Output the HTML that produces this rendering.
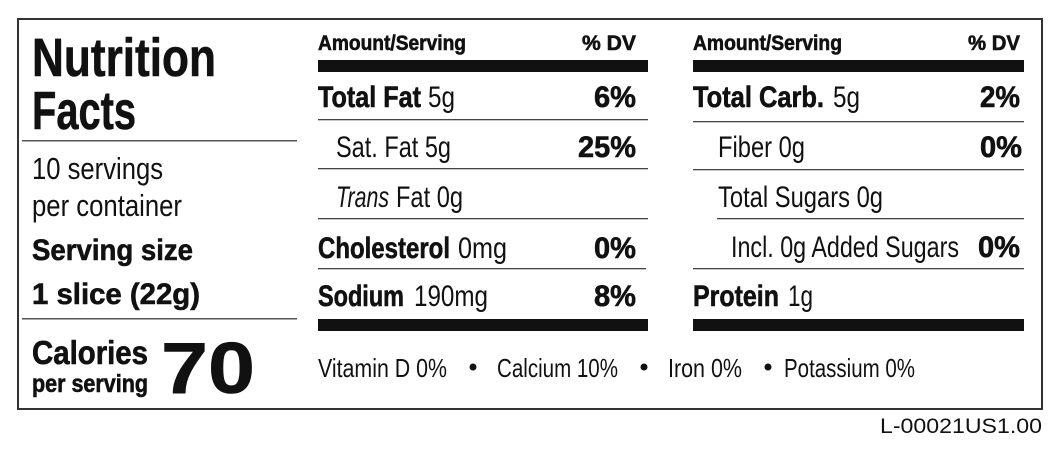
<!DOCTYPE html>
<html><head><meta charset="utf-8"><style>
html,body{margin:0;padding:0;background:#fff;}
svg{display:block;}
text{font-family:"Liberation Sans",sans-serif;fill:#111;}
.b{font-weight:bold;stroke:#111;stroke-width:0.6;}
</style></head><body>
<svg width="1060" height="449" viewBox="0 0 1060 449" xmlns="http://www.w3.org/2000/svg">
<rect x="18" y="19" width="1024" height="390" fill="none" stroke="#333" stroke-width="2"/>
<!-- left column -->
<text class="b" x="32" y="76" font-size="54" textLength="184" lengthAdjust="spacingAndGlyphs">Nutrition</text>
<text class="b" x="32" y="129" font-size="54" textLength="104" lengthAdjust="spacingAndGlyphs">Facts</text>
<rect x="22" y="140" width="275" height="1.5" fill="#555"/>
<text x="32" y="179" font-size="31" textLength="131" lengthAdjust="spacingAndGlyphs">10 servings</text>
<text x="32" y="216" font-size="31" textLength="150" lengthAdjust="spacingAndGlyphs">per container</text>
<text class="b" x="32" y="260" font-size="30" textLength="161" lengthAdjust="spacingAndGlyphs">Serving size</text>
<text class="b" x="32" y="304" font-size="30" textLength="168" lengthAdjust="spacingAndGlyphs">1 slice (22g)</text>
<rect x="22" y="318" width="275" height="1.5" fill="#555"/>
<text class="b" x="32" y="364" font-size="33" textLength="116" lengthAdjust="spacingAndGlyphs">Calories</text>
<text class="b" x="32" y="392" font-size="25" textLength="116" lengthAdjust="spacingAndGlyphs">per serving</text>
<text class="b" x="161" y="393" font-size="72" stroke-width="2" textLength="94" lengthAdjust="spacingAndGlyphs">70</text>
<!-- middle column -->
<text class="b" x="318" y="50" font-size="21" textLength="148" lengthAdjust="spacingAndGlyphs">Amount/Serving</text>
<text class="b" x="582" y="50" font-size="21" textLength="54" lengthAdjust="spacingAndGlyphs">% DV</text>
<rect x="318" y="60" width="330" height="12" fill="#111"/>
<text class="b" x="318" y="107" font-size="30" textLength="103" lengthAdjust="spacingAndGlyphs">Total Fat</text>
<text x="428" y="107" font-size="30" textLength="27" lengthAdjust="spacingAndGlyphs">5g</text>
<text class="b" x="594" y="107" font-size="30" textLength="42" lengthAdjust="spacingAndGlyphs">6%</text>
<rect x="318" y="119" width="330" height="1.3" fill="#444"/>
<text x="336" y="157" font-size="30" textLength="115" lengthAdjust="spacingAndGlyphs">Sat. Fat 5g</text>
<text class="b" x="578" y="157" font-size="30" textLength="58" lengthAdjust="spacingAndGlyphs">25%</text>
<rect x="318" y="168" width="330" height="1.3" fill="#444"/>
<text x="336" y="207" font-size="30" font-style="italic" textLength="53" lengthAdjust="spacingAndGlyphs">Trans</text>
<text x="396" y="207" font-size="30" textLength="67" lengthAdjust="spacingAndGlyphs">Fat 0g</text>
<rect x="318" y="218" width="330" height="1.3" fill="#444"/>
<text class="b" x="318" y="258" font-size="30" textLength="132" lengthAdjust="spacingAndGlyphs">Cholesterol</text>
<text x="458" y="258" font-size="30" textLength="49" lengthAdjust="spacingAndGlyphs">0mg</text>
<text class="b" x="594" y="258" font-size="30" textLength="42" lengthAdjust="spacingAndGlyphs">0%</text>
<rect x="318" y="268" width="328" height="1.3" fill="#444"/>
<text class="b" x="318" y="306" font-size="30" textLength="86" lengthAdjust="spacingAndGlyphs">Sodium</text>
<text x="414" y="306" font-size="30" textLength="74" lengthAdjust="spacingAndGlyphs">190mg</text>
<text class="b" x="594" y="306" font-size="30" textLength="42" lengthAdjust="spacingAndGlyphs">8%</text>
<rect x="318" y="319" width="330" height="12" fill="#111"/>
<!-- right column -->
<text class="b" x="693" y="50" font-size="21" textLength="149" lengthAdjust="spacingAndGlyphs">Amount/Serving</text>
<text class="b" x="968" y="50" font-size="21" textLength="52" lengthAdjust="spacingAndGlyphs">% DV</text>
<rect x="693" y="60" width="331" height="12" fill="#111"/>
<text class="b" x="693" y="107" font-size="30" textLength="131" lengthAdjust="spacingAndGlyphs">Total Carb.</text>
<text x="833" y="107" font-size="30" textLength="27" lengthAdjust="spacingAndGlyphs">5g</text>
<text class="b" x="980" y="107" font-size="30" textLength="40" lengthAdjust="spacingAndGlyphs">2%</text>
<rect x="693" y="121" width="331" height="1.3" fill="#444"/>
<text x="718" y="157" font-size="30" textLength="87" lengthAdjust="spacingAndGlyphs">Fiber 0g</text>
<text class="b" x="980" y="157" font-size="30" textLength="42" lengthAdjust="spacingAndGlyphs">0%</text>
<rect x="693" y="169" width="331" height="1.3" fill="#444"/>
<text x="718" y="207" font-size="30" textLength="165" lengthAdjust="spacingAndGlyphs">Total Sugars 0g</text>
<rect x="717" y="218" width="307" height="1.3" fill="#444"/>
<text x="731" y="257" font-size="30" textLength="228" lengthAdjust="spacingAndGlyphs">Incl. 0g Added Sugars</text>
<text class="b" x="978" y="257" font-size="30" textLength="42" lengthAdjust="spacingAndGlyphs">0%</text>
<rect x="693" y="268" width="331" height="1.3" fill="#444"/>
<text class="b" x="693" y="306" font-size="30" textLength="86" lengthAdjust="spacingAndGlyphs">Protein</text>
<text x="788" y="306" font-size="30" textLength="25" lengthAdjust="spacingAndGlyphs">1g</text>
<rect x="693" y="319" width="331" height="12" fill="#111"/>
<!-- vitamins -->
<text x="318" y="377" font-size="26" textLength="129" lengthAdjust="spacingAndGlyphs">Vitamin D 0%</text>
<circle cx="473" cy="367" r="3.5" fill="#111"/>
<text x="497" y="377" font-size="26" textLength="121" lengthAdjust="spacingAndGlyphs">Calcium 10%</text>
<circle cx="644" cy="367" r="3.5" fill="#111"/>
<text x="668" y="377" font-size="26" textLength="74" lengthAdjust="spacingAndGlyphs">Iron 0%</text>
<circle cx="768" cy="367" r="3.5" fill="#111"/>
<text x="784" y="377" font-size="26" textLength="131" lengthAdjust="spacingAndGlyphs">Potassium 0%</text>
<!-- footer -->
<text x="880" y="433" font-size="21" fill="#222" textLength="162" lengthAdjust="spacingAndGlyphs">L-00021US1.00</text>
</svg>
</body></html>
